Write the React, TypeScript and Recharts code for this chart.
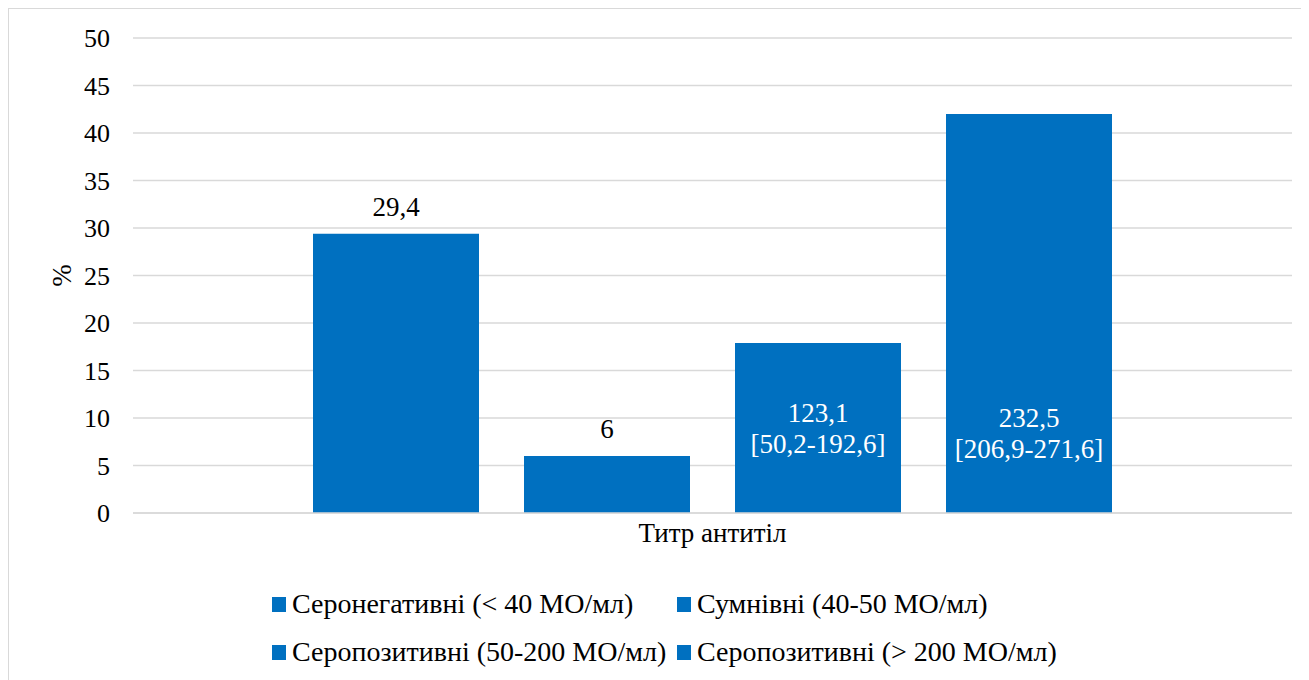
import React from 'react';
import { BarChart, Bar, XAxis, YAxis, CartesianGrid, LabelList, Legend } from 'recharts';

if (typeof document !== 'undefined') {
  document.documentElement.style.overflow = 'hidden';
  document.body.style.overflow = 'hidden';
}

const categories = ['Титр антитіл'];
const seriesNames = [
  'Серонегативні (< 40 МО/мл)',
  'Сумнівні (40-50 МО/мл)',
  'Серопозитивні (50-200 МО/мл)',
  'Серопозитивні (> 200 МО/мл)',
];
const seronegative = [29.4];
const doubtful = [6];
const seropositiveMid = [17.9];
const seropositiveHigh = [42];
const yTicks = [0, 5, 10, 15, 20, 25, 30, 35, 40, 45, 50];
const medianLabels = ['123,1', '232,5'];
const rangeLabels = ['[50,2-192,6]', '[206,9-271,6]'];

const keys = ['s1', 's2', 's3', 's4'];
const data = categories.map((name, i) => ({
  name,
  s1: seronegative[i],
  s2: doubtful[i],
  s3: seropositiveMid[i],
  s4: seropositiveHigh[i],
}));

const FONT = "'Liberation Serif', 'DejaVu Serif', serif";
const BLUE = '#0070c0';
const GRID = '#d9d9d9';

const fmt = (v: any) => String(v).replace('.', ',');

const makeInside = (median: string, range: string, firstUp: number, secondUp: number) => (p: any) => {
  const x = Number(p.x);
  const y = Number(p.y);
  const w = Number(p.width);
  const h = Number(p.height);
  const cx = x + w / 2;
  const bottom = y + h;
  return (
    <g>
      <text x={cx} y={bottom - firstUp} textAnchor="middle" fill="#fff" style={{ fontFamily: FONT, fontSize: 27 }}>
        {median}
      </text>
      <text x={cx} y={bottom - secondUp} textAnchor="middle" fill="#fff" style={{ fontFamily: FONT, fontSize: 27 }}>
        {range}
      </text>
    </g>
  );
};

const LegendContent = () => (
  <div
    style={{
      display: 'grid',
      gridTemplateColumns: '405px auto',
      fontFamily: FONT,
      fontSize: 28,
      color: '#000',
    }}
  >
    {seriesNames.map((n) => (
      <div key={n} style={{ display: 'flex', alignItems: 'center', height: 48, whiteSpace: 'nowrap' }}>
        <span style={{ display: 'inline-block', width: 14, height: 15, background: BLUE, marginRight: 6 }} />
        <span>{n}</span>
      </div>
    ))}
  </div>
);

export default function App() {
  return (
    <div
      style={{
        position: 'relative',
        width: 1298,
        height: 700,
        border: `1px solid ${GRID}`,
        boxSizing: 'border-box',
        background: '#fff',
        fontFamily: FONT,
      }}
    >
      <BarChart
        width={1296}
        height={660}
        data={data}
        margin={{ top: 29, right: 13, bottom: 116, left: 0 }}
        barSize={166}
        barGap={45}
        style={{ fontFamily: FONT }}
      >
        <CartesianGrid vertical={false} stroke={GRID} strokeWidth={1.3} />
        <XAxis
          dataKey="name"
          axisLine={{ stroke: GRID, strokeWidth: 1.3 }}
          tickLine={false}
          tickSize={0}
          tickMargin={10}
          height={40}
          tick={{ fill: '#000', fontFamily: FONT, fontSize: 27 }}
        />
        <YAxis
          domain={[0, 50]}
          ticks={yTicks}
          width={124}
          axisLine={false}
          tickLine={false}
          tickSize={0}
          tickMargin={23}
          interval={0}
          tick={{ fill: '#000', fontFamily: FONT, fontSize: 26 }}
          label={{ value: '%', angle: -90, position: 'center', dx: -10, fill: '#000', fontFamily: FONT, fontSize: 27 }}
        />
        <Legend
          layout="horizontal"
          verticalAlign="middle"
          align="center"
          content={LegendContent}
          wrapperStyle={{ left: 263, top: 571, width: 900, height: 96 }}
        />
        <Bar dataKey={keys[0]} name={seriesNames[0]} fill={BLUE} isAnimationActive={false}>
          <LabelList dataKey={keys[0]} position="top" offset={18} formatter={fmt} fill="#000" fontFamily={FONT} fontSize={27} />
        </Bar>
        <Bar dataKey={keys[1]} name={seriesNames[1]} fill={BLUE} isAnimationActive={false}>
          <LabelList dataKey={keys[1]} position="top" offset={18} formatter={fmt} fill="#000" fontFamily={FONT} fontSize={27} />
        </Bar>
        <Bar dataKey={keys[2]} name={seriesNames[2]} fill={BLUE} isAnimationActive={false}>
          <LabelList dataKey={keys[2]} content={makeInside(medianLabels[0], rangeLabels[0], 91, 60)} />
        </Bar>
        <Bar dataKey={keys[3]} name={seriesNames[3]} fill={BLUE} isAnimationActive={false}>
          <LabelList dataKey={keys[3]} content={makeInside(medianLabels[1], rangeLabels[1], 86, 55)} />
        </Bar>
      </BarChart>
    </div>
  );
}
